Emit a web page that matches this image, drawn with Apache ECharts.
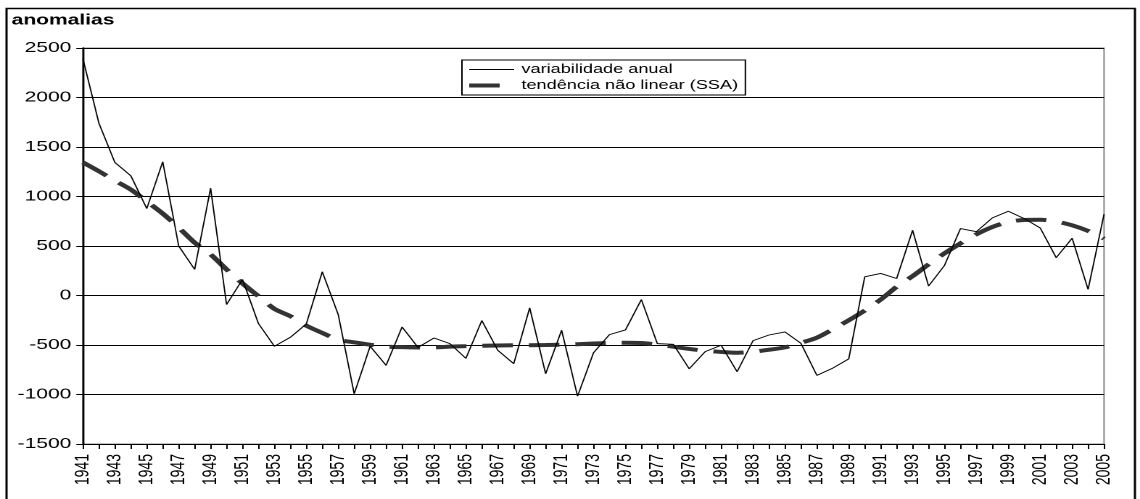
<!DOCTYPE html>
<html>
<head>
<meta charset="utf-8">
<script src="https://cdn.jsdelivr.net/npm/echarts@6/dist/echarts.min.js"></script>
<style>
  html, body { margin: 0; padding: 0; background: #fff; overflow: hidden; }
  #wrap { width: 1140px; height: 499px; overflow: hidden; position: relative; }
  #main { width: 786px; height: 499px; transform: scaleX(1.4504); transform-origin: 0 0; }
</style>
</head>
<body>
<div id="wrap"><div id="main"></div></div>
<script>
const years = ['1941','1942','1943','1944','1945','1946','1947','1948','1949','1950',
  '1951','1952','1953','1954','1955','1956','1957','1958','1959','1960',
  '1961','1962','1963','1964','1965','1966','1967','1968','1969','1970',
  '1971','1972','1973','1974','1975','1976','1977','1978','1979','1980',
  '1981','1982','1983','1984','1985','1986','1987','1988','1989','1990',
  '1991','1992','1993','1994','1995','1996','1997','1998','1999','2000',
  '2001','2002','2003','2004','2005'];

const annualVariability = [2390, 1740, 1344, 1209, 878, 1351, 500, 263, 1084, -91,
  162, -284, -513, -422, -287, 240, -193, -993, -513, -706,
  -318, -524, -429, -486, -635, -253, -554, -689, -125, -790,
  -351, -1017, -578, -395, -348, -41, -486, -493, -740, -567,
  -503, -770, -456, -399, -368, -483, -807, -733, -640, 189,
  223, 172, 659, 95, 304, 676, 645, 784, 851, 777,
  682, 382, 578, 61, 821];

const ssaTrend = [1344, 1255, 1160, 1070, 950, 828, 686, 534, 415, 263,
  122, -7, -135, -209, -305, -378, -446, -473, -497, -515,
  -522, -525, -524, -517, -512, -508, -505, -503, -502, -500,
  -497, -492, -485, -479, -477, -480, -495, -517, -540, -558,
  -570, -578, -568, -548, -524, -478, -426, -341, -250, -152,
  -41, 88, 196, 314, 426, 527, 618, 692, 743, 763,
  765, 748, 709, 652, 574];

const yTicks = { min: -1500, max: 2500, step: 500 };
const seriesNames = ['variabilidade anual', 'tendência não linear (SSA)'];
const titleText = 'anomalias';

const FONT = '"Liberation Sans", Arial, sans-serif';
const chart = echarts.init(document.getElementById('main'), null, { renderer: 'canvas', devicePixelRatio: 2 });

const hiddenSymbol = { color: 'rgba(0,0,0,0)', borderColor: 'rgba(0,0,0,0)', borderWidth: 0 };

chart.setOption({
  animation: false,
  backgroundColor: '#fff',
  textStyle: { fontFamily: FONT },
  title: {
    text: titleText,
    left: 8,
    top: 13,
    padding: 0,
    textStyle: { fontFamily: FONT, fontSize: 14.5, fontWeight: 'bold', color: '#000' }
  },
  graphic: [{
    type: 'rect',
    shape: { x: 4.5, y: 8.5, width: 778, height: 510 },
    style: { fill: 'none', stroke: '#000', lineWidth: 1.5 },
    silent: true,
    z: 100
  }],
  legend: {
    orient: 'vertical',
    left: 318.5,
    top: 60,
    padding: [3, 5, 3, 3],
    itemGap: 3,
    itemWidth: 31,
    itemHeight: 14,
    borderColor: '#000',
    borderWidth: 1,
    backgroundColor: '#fff',
    textStyle: { fontFamily: FONT, fontSize: 12.5, color: '#000' },
    data: [
      { name: seriesNames[0], itemStyle: hiddenSymbol, lineStyle: { width: 0.9, color: '#000' } },
      { name: seriesNames[1], itemStyle: hiddenSymbol, lineStyle: { type: [21, 200], width: 4, color: '#333' } }
    ]
  },
  grid: {
    left: 57.2,
    right: 24.8,
    top: 48,
    bottom: 55,
    show: true,
    borderColor: '#888',
    borderWidth: 1,
    containLabel: false
  },
  xAxis: {
    type: 'category',
    data: years,
    boundaryGap: false,
    axisLine: { show: true, onZero: false, lineStyle: { color: '#000', width: 1 } },
    axisTick: { show: true, interval: 0, length: 5, lineStyle: { color: '#000' } },
    axisLabel: {
      interval: 1,
      rotate: 90,
      margin: 10,
      fontFamily: FONT,
      fontSize: 14,
      color: '#000'
    },
    splitLine: { show: false }
  },
  yAxis: {
    type: 'value',
    min: yTicks.min,
    max: yTicks.max,
    interval: yTicks.step,
    axisLine: { show: true, lineStyle: { color: '#000', width: 1.4 } },
    axisTick: { show: true, length: 4.6, lineStyle: { color: '#000' } },
    axisLabel: { margin: 8, fontFamily: FONT, fontSize: 14.5, color: '#000', formatter: (v) => String(v) },
    splitLine: { show: true, lineStyle: { color: '#000', width: 1 } }
  },
  series: [
    {
      name: seriesNames[0],
      type: 'line',
      data: annualVariability,
      symbol: 'none',
      showSymbol: false,
      lineStyle: { color: '#000', width: 0.9 },
      itemStyle: { color: '#000' },
      z: 3
    },
    {
      name: seriesNames[1],
      type: 'line',
      data: ssaTrend,
      smooth: 0.3,
      symbol: 'none',
      showSymbol: false,
      lineStyle: { color: '#333', width: 4, type: [21, 11] },
      itemStyle: { color: '#333' },
      z: 2
    }
  ]
});
</script>
</body>
</html>
